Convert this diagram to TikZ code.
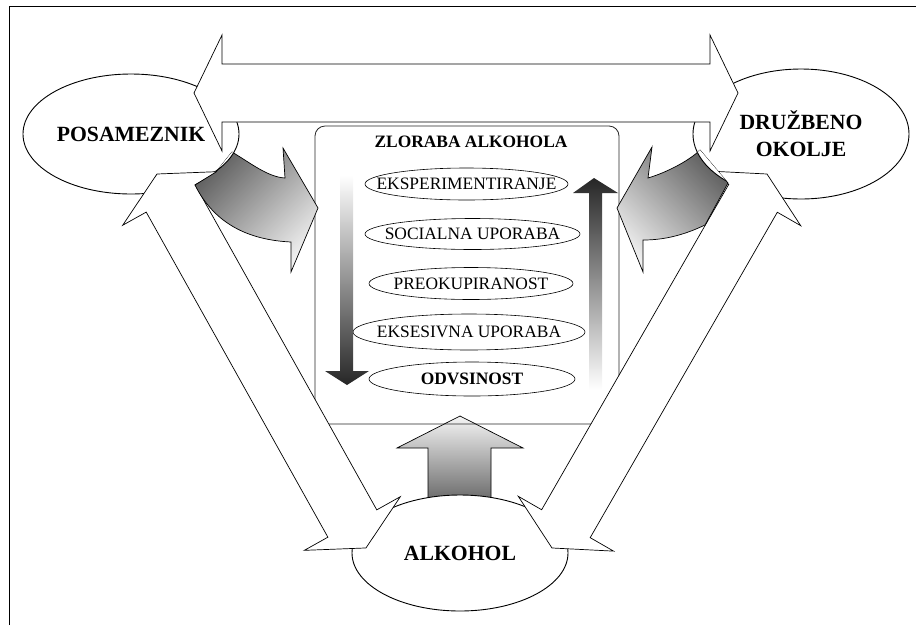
\documentclass[tikz,border=0pt]{standalone}
\usepackage{fontspec}
\setmainfont{Liberation Serif}
\usetikzlibrary{shapes.geometric}
\newcommand\bigfnt{\fontsize{21.7pt}{27pt}\selectfont\bfseries}
\newcommand\smfnt{\fontsize{17.4pt}{20pt}\selectfont}
% double block arrow: #1 style, #2 start tip coordinate, #3 angle, #4 length, #5 shaft half width, #6 head half width
\newcommand\dblarrow[6]{%
  \begin{scope}[shift={(#2)}, rotate=#3]
    \draw[#1] (0,0) -- (28,#6) -- (28,#5) -- (#4-28,#5) -- (#4-28,#6) -- (#4,0)
      -- (#4-28,-#6) -- (#4-28,-#5) -- (28,-#5) -- (28,-#6) -- cycle;
  \end{scope}}
\begin{document}
\begin{tikzpicture}[x=1pt,y=1pt,line join=miter,
  bigell/.style={ellipse, draw, fill=white, line width=0.9pt, inner sep=0pt, font=\bigfnt, align=center},
  smell/.style={ellipse, draw, fill=white, line width=0.6pt, inner sep=0pt, font=\smfnt},
  blockarrow/.style={draw, fill=white, line width=0.7pt},
  gradarrow/.style={draw, line width=0.7pt},
  frameline/.style={line width=0.8pt}]
\useasboundingbox (0,0) rectangle (916,-625);
% frame
\draw[frameline] (9,-625) -- (9,-6) -- (916,-6);
% upward arrow from ALKOHOL to box
\coordinate (uptip) at (460,-416);
\shade[top color=black!4, bottom color=black!58, draw, line width=0.7pt]
  (uptip) -- (523,-448) -- (491,-448) -- (491,-500) -- (428,-500) -- (428,-448) -- (397,-448) -- cycle;
% central box
\node[draw=black!85, line width=0.8pt, rounded corners=10pt, minimum width=304, minimum height=298, inner sep=0pt] (box) at (467,-275) {};
\node[font=\smfnt\bfseries] (title) at (471,-142) {ZLORABA ALKOHOLA};
\node[smell, minimum width=203, minimum height=32] (e1) at (466.5,-184) {\makebox[0pt]{EKSPERIMENTIRANJE}};
\node[smell, minimum width=215, minimum height=31] (e2) at (472.5,-234) {\makebox[0pt]{SOCIALNA UPORABA}};
\node[smell, minimum width=204, minimum height=32] (e3) at (471,-283.5) {\makebox[0pt]{PREOKUPIRANOST}};
\node[smell, minimum width=232, minimum height=36] (e4) at (469,-332) {\makebox[0pt]{EKSESIVNA UPORABA}};
\node[smell, minimum width=206, minimum height=34] (e5) at (472,-379) {\makebox[0pt]{\bfseries ODVSINOST}};
% thin gradient arrows
\shade[top color=white, bottom color=black!85]
  (340,-175) -- (353,-175) -- (353,-371) -- (369,-371) -- (347,-385) -- (325,-371) -- (340,-371) -- cycle;
\shade[top color=black!85, bottom color=white]
  (594,-178) -- (618,-193) -- (602,-193) -- (602,-390) -- (589,-390) -- (589,-193) -- (573,-193) -- cycle;
% main ellipses
\node[bigell, minimum width=216, minimum height=120] (pos) at (131,-134) {POSAMEZNIK};
\node[bigell, minimum width=216, minimum height=130] (druz) at (801,-134) {DRUŽBENO\\OKOLJE};
\node[bigell, minimum width=216, minimum height=116] (alk) at (460,-553) {ALKOHOL};
% diagonal double arrows
\coordinate (ltip) at (157,-174);
\coordinate (rtip) at (767,-174);
\dblarrow{blockarrow}{ltip}{-60.8}{428.4}{28}{55}
\dblarrow{blockarrow}{rtip}{-119.9}{431.4}{28}{55}
% curved gradient arrows
\shade[gradarrow, top color=black!62, bottom color=black!6, shading angle=45]
  (195,-185) -- (216,-172) -- (232,-152) .. controls (252,-164) and (268,-177) .. (285,-178)
  -- (283,-148) -- (318,-208) -- (291,-272) -- (291,-242)
  .. controls (250,-240) and (215,-225) .. (195,-185) -- cycle;
\shade[gradarrow, top color=black!62, bottom color=black!6, shading angle=-45]
  (705,-225) .. controls (680,-237) and (660,-240) .. (643,-240) -- (643,-272) -- (617,-208)
  -- (652,-147) -- (648,-178) .. controls (668,-172) and (690,-160) .. (700,-150)
  -- (728,-183) -- cycle;
% ellipses covering the tails of the curved arrows
\begin{scope}
  \clip (195,-185) -- (216,-172) -- (232,-152) .. controls (252,-164) and (268,-177) .. (285,-178)
  -- (283,-148) -- (318,-208) -- (291,-272) -- (291,-242)
  .. controls (250,-240) and (215,-225) .. (195,-185) -- cycle;
  \draw[fill=white, line width=0.9pt] (pos.center) ellipse [x radius=108, y radius=60];
\end{scope}
\begin{scope}
  \clip (705,-225) .. controls (680,-237) and (660,-240) .. (643,-240) -- (643,-272) -- (617,-208)
  -- (652,-147) -- (648,-178) .. controls (668,-172) and (690,-160) .. (700,-150)
  -- (728,-183) -- cycle;
  \draw[fill=white, line width=0.9pt] (druz.center) ellipse [x radius=108, y radius=65];
\end{scope}
% top double arrow
\coordinate (ttip) at (194,-93);
\dblarrow{blockarrow}{ttip}{0}{544}{29}{58}
\end{tikzpicture}
\end{document}
